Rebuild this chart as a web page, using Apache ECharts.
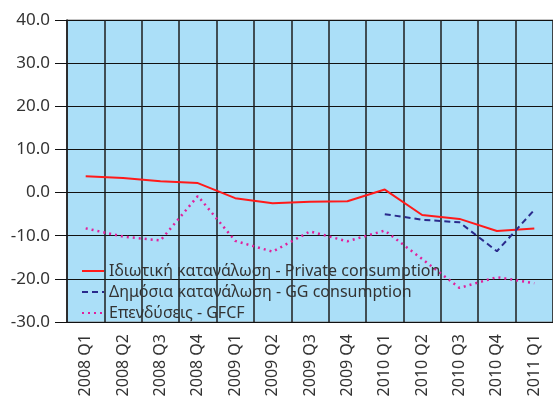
<!DOCTYPE html>
<html>
<head>
<meta charset="utf-8">
<script src="https://cdn.jsdelivr.net/npm/echarts@6/dist/echarts.min.js"></script>
<style>
  html, body { margin: 0; padding: 0; background: #fff; }
  #chart { width: 553px; height: 402px; }
</style>
</head>
<body>
<div id="chart"></div>
<script>
const quarters = ['2008 Q1', '2008 Q2', '2008 Q3', '2008 Q4', '2009 Q1', '2009 Q2', '2009 Q3',
  '2009 Q4', '2010 Q1', '2010 Q2', '2010 Q3', '2010 Q4', '2011 Q1'];
const privateCons = [3.8, 3.4, 2.6, 2.2, -1.3, -2.5, -2.1, -2.0, 0.7, -5.2, -6.1, -8.9, -8.3];
const ggCons = [null, null, null, null, null, null, null, null, -5.0, -6.3, -6.9, -13.6, -4.0];
const gfcf = [-8.3, -10.2, -11.1, -0.8, -11.2, -13.7, -9.0, -11.3, -8.8, -15.4, -22.1, -19.6, -21.0];
const seriesNames = ['Ιδιωτική κατανάλωση - Private consumption', 'Δημόσια κατανάλωση - GG consumption', 'Επενδύσεις - GFCF'];

const chart = echarts.init(document.getElementById('chart'));
const font = 'Noto Sans';

chart.setOption({
  animation: false,
  grid: { left: 67, top: 20, right: -5, bottom: 80, backgroundColor: '#abdff8', show: true, borderColor: '#888', borderWidth: 1 },
  legend: {
    orient: 'vertical',
    left: 76,
    top: 258,
    itemGap: 5,
    itemWidth: 22,
    itemHeight: 16,
    itemStyle: { opacity: 0 },
    textStyle: { fontFamily: font, fontSize: 16, color: '#333' },
    data: seriesNames
  },
  xAxis: {
    type: 'category',
    data: quarters,
    boundaryGap: true,
    axisLine: { show: true, lineStyle: { color: '#111', width: 1 } },
    axisTick: { show: false },
    axisLabel: { rotate: 90, margin: 12, fontFamily: font, fontSize: 16, color: '#333' },
    splitLine: { show: true, lineStyle: { color: 'rgba(30,30,30,0.75)', width: 2 } }
  },
  yAxis: {
    type: 'value',
    min: -30,
    max: 40,
    interval: 10,
    axisLine: { show: true, lineStyle: { color: 'rgba(30,30,30,0.6)', width: 2 } },
    axisTick: { show: true, length: 12, lineStyle: { color: '#111', width: 1 } },
    axisLabel: { margin: 17, fontFamily: font, fontSize: 17, color: '#333', formatter: v => v.toFixed(1) },
    splitLine: { show: true, lineStyle: { color: '#111', width: 1 } }
  },
  series: [
    {
      name: seriesNames[0], type: 'line', data: privateCons, symbol: 'none',
      lineStyle: { color: '#ff1a1a', width: 2 }, itemStyle: { color: '#ff1a1a' }
    },
    {
      name: seriesNames[1], type: 'line', data: ggCons, symbol: 'none',
      lineStyle: { color: '#2a2a8c', width: 2, type: [6, 4] }, itemStyle: { color: '#2a2a8c' }
    },
    {
      name: seriesNames[2], type: 'line', data: gfcf, symbol: 'none',
      lineStyle: { color: '#e0209c', width: 2.5, type: [2, 4] }, itemStyle: { color: '#e0209c' }
    }
  ]
});
</script>
</body>
</html>
